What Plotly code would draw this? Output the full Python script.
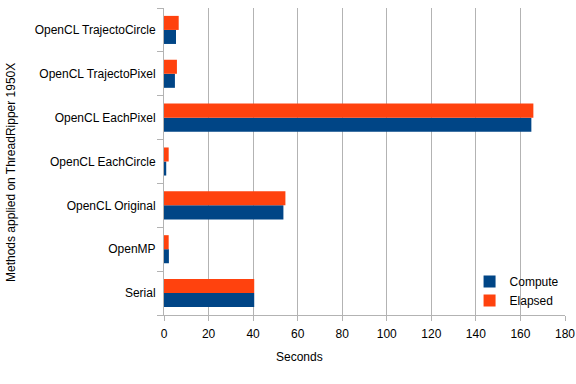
import plotly.graph_objects as go

categories = ["Serial", "OpenMP", "OpenCL Original", "OpenCL EachCircle",
              "OpenCL EachPixel", "OpenCL TrajectoPixel", "OpenCL TrajectoCircle"]
compute = [40.5, 2.2, 53.6, 1.0, 164.9, 4.9, 5.4]
elapsed = [40.5, 2.1, 54.5, 2.1, 165.8, 5.8, 6.6]
x_ticks = [0, 20, 40, 60, 80, 100, 120, 140, 160, 180]

fig = go.Figure()
fig.add_trace(go.Bar(y=categories, x=compute, orientation="h", name="Compute",
                     marker=dict(color="#004586", line=dict(width=0))))
fig.add_trace(go.Bar(y=categories, x=elapsed, orientation="h", name="Elapsed",
                     marker=dict(color="#ff420e", line=dict(width=0))))

T, B, L, R = 8, 315, 164, 565
H = B - T
W = R - L

fig.update_layout(
    width=576, height=384,
    margin=dict(l=L, r=576 - R, t=T, b=384 - B, autoexpand=False),
    paper_bgcolor="white", plot_bgcolor="white",
    font=dict(family="Liberation Sans", size=12, color="#000000"),
    barmode="group", bargap=0.36, bargroupgap=0,
    showlegend=True,
    legend=dict(x=0.762, y=0.0, xanchor="left", yanchor="bottom",
                bgcolor="rgba(0,0,0,0)", font=dict(size=12),
                itemwidth=30, tracegroupgap=0),
    xaxis=dict(range=[0, 180], tickvals=x_ticks, showgrid=True,
               gridcolor="#b3b3b3", gridwidth=1, showline=True,
               linecolor="#b3b3b3", ticks="outside", ticklen=5,
               tickcolor="#b3b3b3", zeroline=False, automargin=False,
               ticklabelstandoff=3, tickfont=dict(size=12)),
    yaxis=dict(showgrid=False, showline=True, linecolor="#b3b3b3",
               ticks="outside", ticklen=6, tickcolor="#b3b3b3",
               tickson="boundaries", automargin=False,
               ticklabelstandoff=5, tickfont=dict(size=12)),
    annotations=[
        dict(text="Seconds", xref="paper", yref="paper",
             x=(299 - L) / W, y=(B - 357) / H, xanchor="center", yanchor="middle",
             showarrow=False, font=dict(size=12)),
        dict(text="Methods applied on ThreadRipper 1950X", xref="paper",
             yref="paper", x=(11 - L) / W, y=(B - 173) / H, textangle=-90,
             xanchor="center", yanchor="middle", showarrow=False,
             font=dict(size=12)),
    ],
)

fig.write_html("out.html", config={"displayModeBar": False},
               post_script="document.body.style.margin='0';document.body.style.padding='0';")
